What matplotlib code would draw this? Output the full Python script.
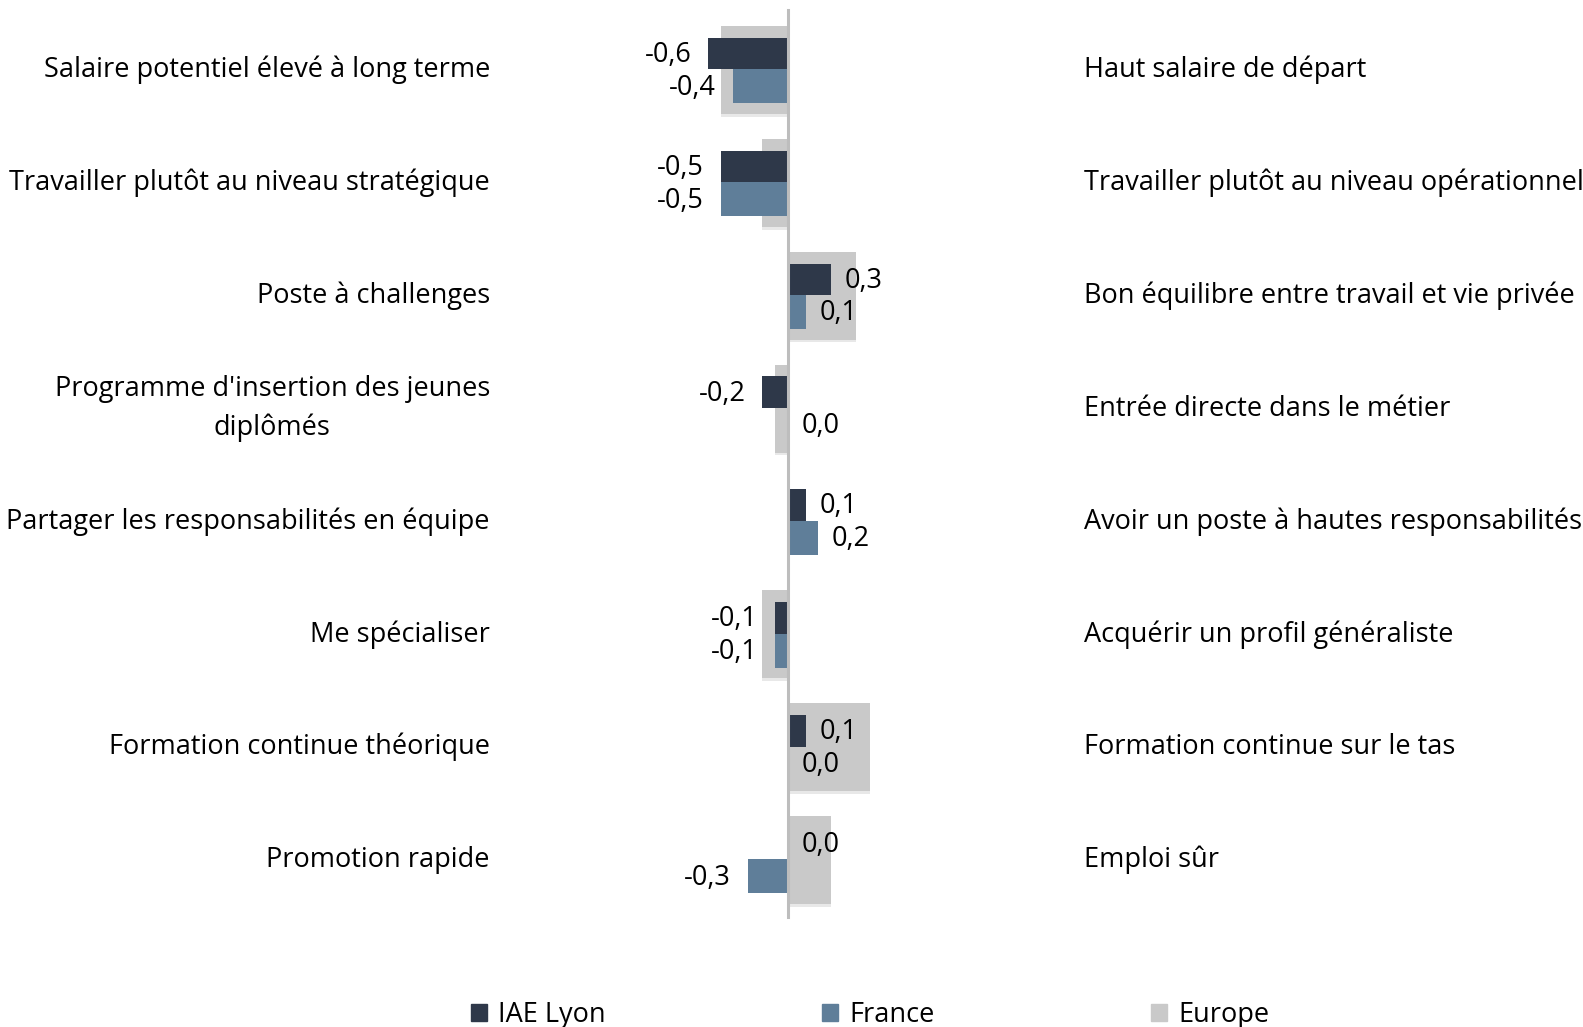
import matplotlib.pyplot as plt
import matplotlib.patheffects as pe
from matplotlib.patches import Patch
from matplotlib.transforms import blended_transform_factory

plt.rcParams['font.family'] = ['Open Sans', 'DejaVu Sans']

left_labels = ["Salaire potentiel élevé à long terme",
               "Travailler plutôt au niveau stratégique",
               "Poste à challenges",
               "Programme d'insertion des jeunes\ndiplômés",
               "Partager les responsabilités en équipe",
               "Me spécialiser",
               "Formation continue théorique",
               "Promotion rapide"]
right_labels = ["Haut salaire de départ",
                "Travailler plutôt au niveau opérationnel",
                "Bon équilibre entre travail et vie privée",
                "Entrée directe dans le métier",
                "Avoir un poste à hautes responsabilités",
                "Acquérir un profil généraliste",
                "Formation continue sur le tas",
                "Emploi sûr"]
iae_lyon = [-0.59, -0.50, 0.32, -0.19, 0.13, -0.10, 0.13, 0.0]
france = [-0.41, -0.50, 0.13, 0.0, 0.22, -0.10, 0.0, -0.30]
europe = [-0.50, -0.19, 0.50, -0.10, 0.0, -0.19, 0.61, 0.32]

c_iae = '#2E3849'
c_fr = '#5F7E99'
c_eu = '#C9C9C9'

fig = plt.figure(figsize=(15.83, 10.27), dpi=100)
ax = fig.add_axes([653 / 1583, 1 - 916.5 / 1027, 270 / 1583, 903 / 1027])

y = list(range(len(left_labels)))
eu = ax.barh(y, europe, height=0.78, color=c_eu, zorder=1)
for b in eu:
    b.set_path_effects([pe.SimplePatchShadow(offset=(0, -2), shadow_rgbFace='#E8E8E8', alpha=1),
                        pe.Normal()])
ax.barh([v - 0.145 for v in y], iae_lyon, height=0.28, color=c_iae, zorder=2)
ax.barh([v + 0.145 for v in y], france, height=0.30, color=c_fr, zorder=2)
ax.axvline(0, ymin=0, ymax=1.004, color='#BDBDBD', lw=2.2, zorder=3, clip_on=False)

ax.set_xlim(-1, 1)
ax.set_ylim(7.5, -0.5)
ax.axis('off')


def fmt(v):
    return f"{v:.1f}".replace('.', ',').replace('-0,0', '0,0')


for vals, dy in ((iae_lyon, -0.145), (france, 0.145)):
    for i, v in enumerate(vals):
        off = 10 if v >= 0 else -12
        ax.annotate(fmt(v), (v, i + dy), xytext=(off, -1), textcoords='offset points',
                    ha='left' if v >= 0 else 'right', va='center', fontsize=19.5,
                    color='black', zorder=4, annotation_clip=False)

tr = blended_transform_factory(fig.transFigure, ax.transData)
for i in y:
    ax.text(490 / 1583, i, left_labels[i], transform=tr, ha='right', va='center',
            multialignment='center', fontsize=19.5, linespacing=1.48)
    ax.text(1084 / 1583, i, right_labels[i], transform=tr, ha='left', va='center',
            fontsize=19.5)

handles = [Patch(color=c_iae), Patch(color=c_fr), Patch(color=c_eu)]
fig.legend(handles, ['IAE Lyon', 'France', 'Europe'], loc='center',
           bbox_to_anchor=(870 / 1583, 1 - 1015 / 1027), ncol=3, frameon=False,
           fontsize=19.5, handlelength=0.6, handleheight=0.6, handletextpad=0.4,
           columnspacing=8.0)

fig.savefig('out.png', dpi=100)
